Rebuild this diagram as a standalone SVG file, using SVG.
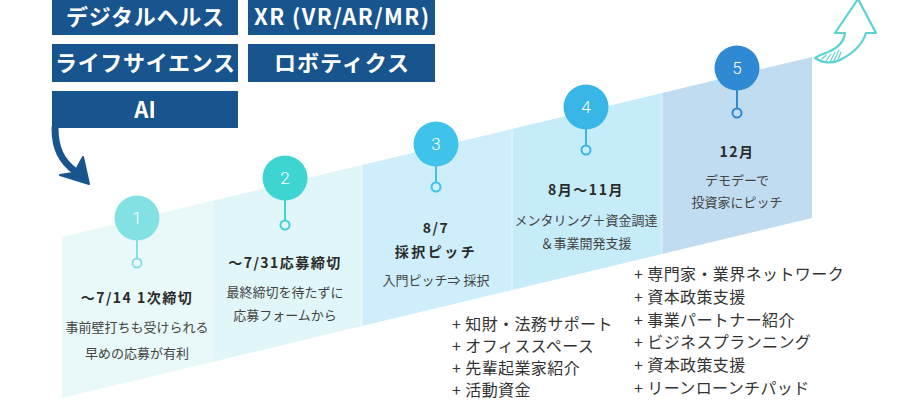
<svg xmlns="http://www.w3.org/2000/svg" width="900" height="400" viewBox="0 0 900 400">
<style>
.cat{fill:#18548e}
.catt{fill:#fff;font-family:"Noto Sans CJK JP","Noto Sans",sans-serif;font-weight:700;font-size:22px;text-anchor:middle}
.num{fill:#fff;font-family:Roboto,"Noto Sans",sans-serif;font-weight:300;font-size:17px;text-anchor:middle}
.h{fill:#2b2b2b;font-family:"Noto Sans CJK JP",sans-serif;font-weight:700;font-size:14px;letter-spacing:1.5px;text-anchor:middle}
.t{fill:#444;font-family:"Noto Sans CJK JP",sans-serif;font-size:13px;text-anchor:middle}
.li{fill:#333;font-family:"Noto Sans CJK JP",sans-serif;font-size:16px;letter-spacing:0.4px}
.stem{stroke-width:2;fill:none}
.div{stroke:#ffffff;stroke-opacity:0.6;stroke-width:1}
</style>
<rect width="900" height="400" fill="#ffffff"/>

<g id="categories">
<rect class="cat" x="52" y="-2" width="186" height="37"/>
<text class="catt" x="145" y="25" textLength="158" lengthAdjust="spacing">デジタルヘルス</text>
<rect class="cat" x="248" y="-2" width="187" height="37"/>
<text class="catt" x="341.5" y="25" textLength="175" lengthAdjust="spacing">XR (VR/AR/MR)</text>
<rect class="cat" x="52" y="44" width="186" height="38"/>
<text class="catt" x="145" y="71" textLength="180" lengthAdjust="spacing">ライフサイエンス</text>
<rect class="cat" x="248" y="44" width="187" height="38"/>
<text class="catt" x="341.5" y="71" textLength="135" lengthAdjust="spacing">ロボティクス</text>
<rect class="cat" x="52" y="91" width="186" height="37"/>
<text class="catt" x="145" y="118">AI</text>
</g>

<g id="panels">
<polygon points="62,237 212,201 212,362 62,398" fill="#e9f8f9"/>
<polygon points="212,201 362,165 362,326 212,362" fill="#e0f6f8"/>
<polygon points="362,165 512,129 512,290 362,326" fill="#cdeefa"/>
<polygon points="512,129 662,93 662,254 512,290" fill="#c6ebf9"/>
<polygon points="662,93 812,57 812,218 662,254" fill="#bfdcf1"/>
<line class="div" x1="212" y1="201" x2="212" y2="362"/>
<line class="div" x1="362" y1="165" x2="362" y2="326"/>
<line class="div" x1="512" y1="129" x2="512" y2="290"/>
<line class="div" x1="662" y1="93" x2="662" y2="254"/>
</g>

<g id="step1">
<line class="stem" x1="137" y1="240" x2="137" y2="258" stroke="#84e1e3"/>
<circle cx="137" cy="263" r="4.5" fill="#e9f8f9" stroke="#84e1e3" stroke-width="2"/>
<circle cx="137" cy="218" r="22.5" fill="#84e1e3"/>
<text class="num" x="137" y="224">1</text>
<text class="h" x="137" y="303">～7/14 1次締切</text>
<text class="t" x="137" y="332">事前壁打ちも受けられる</text>
<text class="t" x="137" y="358">早めの応募が有利</text>
</g>

<g id="step2">
<line class="stem" x1="285" y1="200" x2="285" y2="220" stroke="#3dd4d2"/>
<circle cx="285" cy="225" r="4.5" fill="#e0f6f8" stroke="#3dd4d2" stroke-width="2"/>
<circle cx="285" cy="178" r="22.5" fill="#3dd4d2"/>
<text class="num" x="285" y="184">2</text>
<text class="h" x="285" y="268">～7/31応募締切</text>
<text class="t" x="285" y="297">最終締切を待たずに</text>
<text class="t" x="285" y="320">応募フォームから</text>
</g>

<g id="step3">
<line class="stem" x1="436" y1="166" x2="436" y2="182" stroke="#3fc3eb"/>
<circle cx="436" cy="187" r="4.5" fill="#cdeefa" stroke="#3fc3eb" stroke-width="2"/>
<circle cx="436" cy="144" r="22.5" fill="#3fc3eb"/>
<text class="num" x="436" y="150">3</text>
<text class="h" x="436" y="233">8/7</text>
<text class="h" x="436" y="257" style="letter-spacing:2.5px">採択ピッチ</text>
<text class="t" x="436" y="285">入門ピッチ⇒ 採択</text>
</g>

<g id="step4">
<line class="stem" x1="586" y1="129" x2="586" y2="145" stroke="#39b6e8"/>
<circle cx="586" cy="150" r="4.5" fill="#c6ebf9" stroke="#39b6e8" stroke-width="2"/>
<circle cx="586" cy="107" r="22.5" fill="#39b6e8"/>
<text class="num" x="586" y="113">4</text>
<text class="h" x="586" y="195">8月～11月</text>
<text class="t" x="586" y="225">メンタリング＋資金調達</text>
<text class="t" x="586" y="248">＆事業開発支援</text>
</g>

<g id="step5">
<line class="stem" x1="737" y1="90" x2="737" y2="108" stroke="#2f89d3"/>
<circle cx="737" cy="113" r="4.5" fill="#bfdcf1" stroke="#2f89d3" stroke-width="2"/>
<circle cx="737" cy="68" r="22.5" fill="#2f89d3"/>
<text class="num" x="737" y="74">5</text>
<text class="h" x="737" y="157">12月</text>
<text class="t" x="737" y="185">デモデーで</text>
<text class="t" x="737" y="207">投資家にピッチ</text>
</g>

<g id="support-list-1">
<text class="li" x="452" y="330">+ 知財・法務サポート</text>
<text class="li" x="452" y="352">+ オフィススペース</text>
<text class="li" x="452" y="374">+ 先輩起業家紹介</text>
<text class="li" x="452" y="396">+ 活動資金</text>
</g>

<g id="support-list-2">
<text class="li" x="634" y="280">+ 専門家・業界ネットワーク</text>
<text class="li" x="634" y="303">+ 資本政策支援</text>
<text class="li" x="634" y="326">+ 事業パートナー紹介</text>
<text class="li" x="634" y="348">+ ビジネスプランニング</text>
<text class="li" x="634" y="371">+ 資本政策支援</text>
<text class="li" x="634" y="394">+ リーンローンチパッド</text>
</g>

<g id="connectors">
<path d="M55,128 C55,148 61,161 76,172" fill="none" stroke="#18548e" stroke-width="7" stroke-linecap="round"/>
<polygon points="89,184 83,157 77,168 73,173 60,175" fill="#18548e" stroke="#18548e" stroke-width="2" stroke-linejoin="round"/>
<g fill="#ffffff" stroke="#5cd3d3" stroke-width="2.2" stroke-linejoin="round" stroke-linecap="round">
<path d="M815,58 C822,63 832,64 840,60 C850,55 862,46 866,33 L876,33 L858,-1 L835,33 L845,33 C844,41 838,48 828,52 C822,54 818,56 815,58 Z"/>
</g>
<g stroke="#5cd3d3" stroke-width="1.2" stroke-linecap="round">
<line x1="822" y1="59" x2="826" y2="55"/>
<line x1="826" y1="61" x2="831" y2="54"/>
<line x1="830" y1="62" x2="835" y2="52"/>
<line x1="834" y1="61" x2="839" y2="50"/>
<line x1="838" y1="60" x2="841" y2="52"/>
</g>
</g>
</svg>
